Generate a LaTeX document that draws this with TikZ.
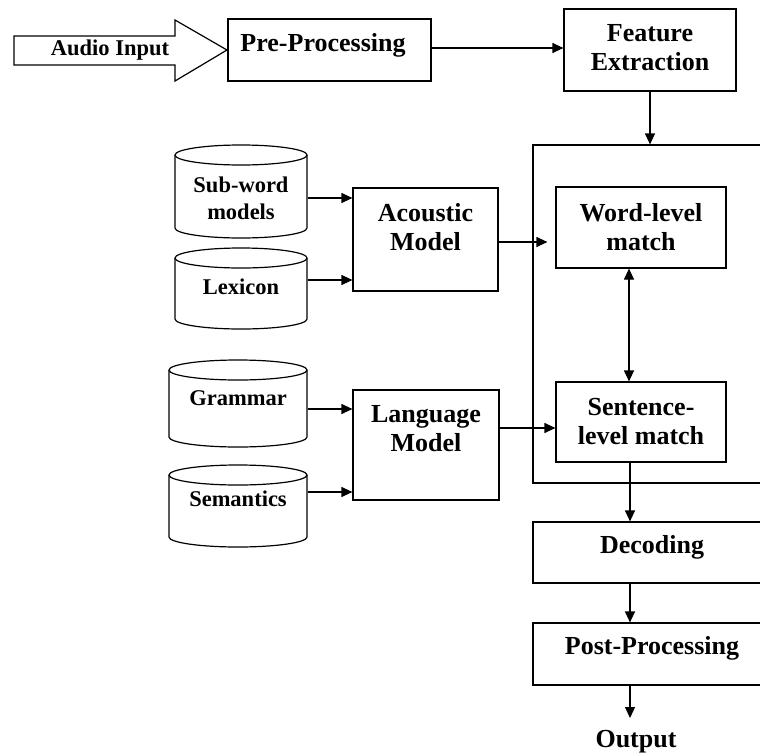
\documentclass[tikz,border=0pt]{standalone}
\usepackage{fontspec}
\setmainfont{Liberation Serif}
\usetikzlibrary{arrows.meta}
\newcommand\mycyl[5]{%
  \pgfmathsetmacro\cx{(#2+#4)/2}%
  \pgfmathsetmacro\rx{(#4-#2)/2}%
  \pgfmathsetmacro\cy{-(#3+#5)/2}%
  \pgfmathsetmacro\ww{#4-#2}%
  \pgfmathsetmacro\hh{#5-#3}%
  \pgfmathsetmacro\ytop{-(#3+10)}%
  \pgfmathsetmacro\ybot{-(#5-10)}%
  \node[inner sep=0pt, minimum width=\ww pt, minimum height=\hh pt] (#1) at (\cx,\cy) {};
  \draw (\cx,\ytop) ellipse[x radius=\rx pt, y radius=10pt];
  \draw (#2,\ytop) -- (#2,\ybot) arc[start angle=180, end angle=360, x radius=\rx pt, y radius=10pt] -- (#4,\ytop);
}
\begin{document}
\begin{tikzpicture}[x=1pt,y=1pt,line width=1.2pt,
  arr/.style={-{Triangle[length=11pt,width=10pt]}},
  dbl/.style={{Triangle[length=11pt,width=10pt]}-{Triangle[length=11pt,width=10pt]}},
  box/.style={draw, rectangle, inner sep=0pt},
  big/.style={font=\fontsize{26}{29}\selectfont\bfseries, align=center, inner sep=0pt},
  small/.style={font=\fontsize{22.5}{27}\selectfont\bfseries, align=center, inner sep=0pt}]
\useasboundingbox (0,0) rectangle (760,-755);

% audio input arrow
\draw (14,-36) -- (175,-36) -- (175,-20) -- (227,-50) -- (175,-81) -- (175,-65) -- (14,-65) -- cycle;
\node[small] (audio) at (110,-50) {Audio Input};

% boxes
\node[box, minimum width=203pt, minimum height=62pt] (pre) at (329.5,-50) {};
\node[big] (pret) at (323,-45) {Pre-Processing};
\node[box, minimum width=172pt, minimum height=82pt] (feat) at (650,-50) {};
\node[big] (featt) at (650,-48) {Feature\\Extraction};
\node[box, minimum width=238pt, minimum height=338pt] (outer) at (652,-314) {};
\node[box, minimum width=170pt, minimum height=81pt] (word) at (641,-227.5) {};
\node[big] (wordt) at (641,-227) {Word-level\\match};
\node[box, minimum width=170pt, minimum height=80pt] (sent) at (641,-422) {};
\node[big] (sentt) at (641,-421.5) {Sentence-\\level match};
\node[box, minimum width=145pt, minimum height=103pt] (aco) at (425.5,-239.5) {};
\node[big] (acot) at (425.5,-227) {Acoustic\\Model};
\node[box, minimum width=146pt, minimum height=110pt] (lang) at (426,-445) {};
\node[big] (langt) at (426,-429) {Language\\Model};
\node[box, minimum width=238pt, minimum height=61pt] (dec) at (652,-552.5) {};
\node[big] (dect) at (652,-547) {Decoding};
\node[box, minimum width=238pt, minimum height=62pt] (post) at (652,-654) {};
\node[big] (postt) at (652,-648) {Post-Processing};
\node[big] (out) at (636,-742) {Output};
\coordinate (outtip) at (630,-718);

% cylinders
\mycyl{sub}{175}{145}{307}{238}
\node[small] (subt) at (241,-198.5) {Sub-word\\models};
\mycyl{lex}{175}{248}{307}{329}
\node[small] (lext) at (241,-287) {Lexicon};
\mycyl{gram}{169}{360}{307}{447}
\node[small] (gramt) at (238,-398) {Grammar};
\mycyl{sem}{169}{465}{307}{547}
\node[small] (semt) at (238,-499) {Semantics};

% connectors
\draw[arr] ([yshift=2pt]pre.east) -- ([yshift=2pt]feat.west);
\draw[arr] (feat.south) -- (feat.south |- outer.north);
\draw[arr] ([yshift=-6.5pt]sub.east) -- ([yshift=41.5pt]aco.west);
\draw[arr] ([yshift=8.5pt]lex.east) -- ([yshift=-40.5pt]aco.west);
\draw[arr] ([yshift=-5.5pt]gram.east) -- ([yshift=36pt]lang.west);
\draw[arr] ([yshift=14pt]sem.east) -- ([yshift=-47pt]lang.west);
\draw[arr, shorten >=8pt] ([yshift=-2.5pt]aco.east) -- ([yshift=-14.5pt]word.west);
\draw[arr] ([yshift=17pt]lang.east) -- ([yshift=-6pt]sent.west);
\draw[dbl] ([xshift=-12pt]word.south) -- ([xshift=-12pt]sent.north);
\draw[arr] ([xshift=-11pt]sent.south) -- ([xshift=-22pt]dec.north);
\draw[arr] ([xshift=-22pt]dec.south) -- ([xshift=-22pt]post.north);
\draw[arr] ([xshift=-22pt]post.south) -- (outtip);
\end{tikzpicture}
\end{document}
